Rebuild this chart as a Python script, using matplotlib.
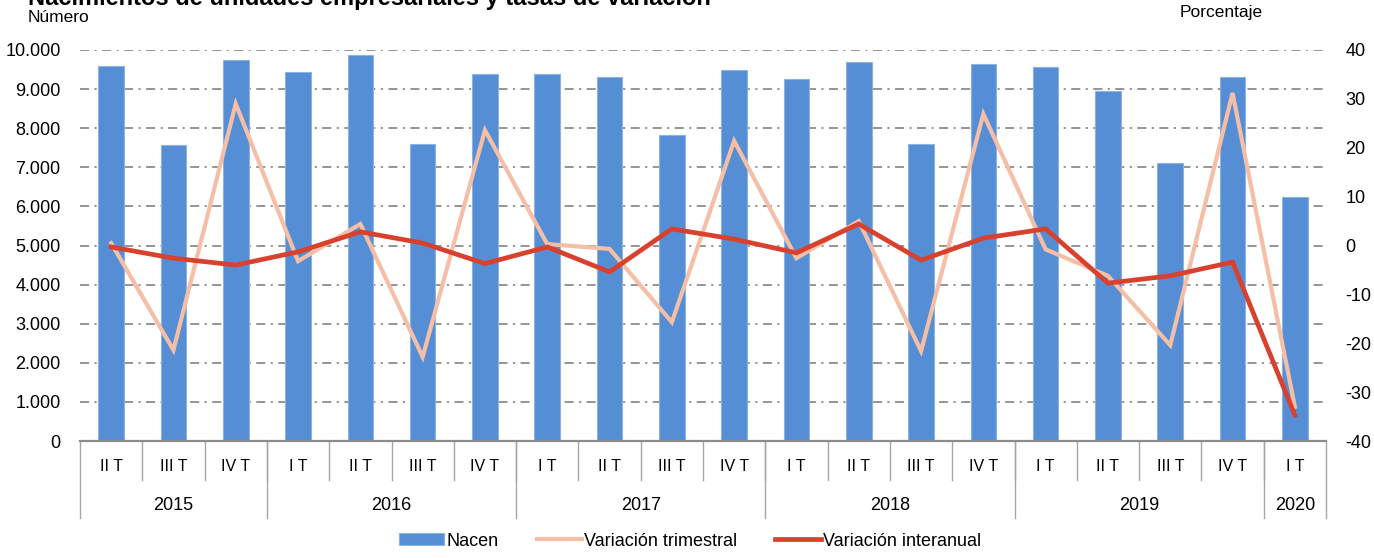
import matplotlib.pyplot as plt
import matplotlib.transforms as mtransforms
import numpy as np

# data
quarters = ["II T", "III T", "IV T",
            "I T", "II T", "III T", "IV T",
            "I T", "II T", "III T", "IV T",
            "I T", "II T", "III T", "IV T",
            "I T", "II T", "III T", "IV T",
            "I T"]
years = ["2015", "2016", "2017", "2018", "2019", "2020"]
quarters_per_year = [3, 4, 4, 4, 4, 1]

nacen = [9600, 7570, 9740, 9440, 9870, 7600, 9390,
         9390, 9300, 7830, 9490, 9250, 9700, 7600, 9640,
         9560, 8950, 7110, 9310, 6240]
var_trimestral = [0.5, -21.4, 29.0, -3.2, 4.4, -22.8, 23.6,
                  0.3, -0.7, -15.7, 21.4, -2.6, 5.0, -21.6, 26.9,
                  -0.8, -6.2, -20.4, 31.2, -33.0]
var_interanual = [-0.3, -2.6, -4.0, -1.3, 2.8, 0.5, -3.7,
                  -0.3, -5.4, 3.4, 1.3, -1.5, 4.4, -3.0, 1.5,
                  3.4, -7.7, -6.2, -3.4, -34.7]

plt.rcParams['font.family'] = ['Liberation Sans', 'DejaVu Sans']
plt.rcParams['axes.unicode_minus'] = False

fig = plt.figure(figsize=(13.74, 5.58), dpi=100)
W, H = 1374, 558
ax = fig.add_axes([80 / W, (H - 441) / H, (1326 - 80) / W, 391 / H])

x = np.arange(len(nacen))
ax.bar(x, nacen, width=0.41, color="#558ED5", edgecolor="#8DB3E2", linewidth=0.8,
       label="Nacen", zorder=2)
ax.set_xlim(-0.5, len(nacen) - 0.5)
ax.set_ylim(0, 10000)
ax.set_yticks(np.arange(0, 10001, 1000))
ax.set_yticklabels([f"{v:,.0f}".replace(",", ".") for v in np.arange(0, 10001, 1000)],
                   fontsize=13)
ax.tick_params(axis="y", length=0, pad=14)
ax.set_xticks([])
ax.set_axisbelow(True)
ax.yaxis.grid(True, color="#8c8c8c", linewidth=1.3, linestyle=(0, (5, 3, 1.2, 3)))
for s in ["top", "left", "right"]:
    ax.spines[s].set_visible(False)
ax.spines["bottom"].set_color("#8c8c8c")
ax.spines["bottom"].set_linewidth(1.6)

ax2 = ax.twinx()
ax2.plot(x, var_trimestral, color="#F4BFA6", linewidth=3.0, label="Variación trimestral",
         solid_joinstyle="miter")
ax2.plot(x, var_interanual, color="#D9412F", linewidth=3.4, label="Variación interanual",
         solid_joinstyle="miter")
ax2.set_ylim(-40, 40)
ax2.set_yticks(np.arange(-40, 41, 10))
ax2.tick_params(axis="y", length=0, pad=14, labelsize=13)
for s in ["top", "left", "right", "bottom"]:
    ax2.spines[s].set_visible(False)
ax2.set_xlim(ax.get_xlim())

# two-level category axis
trans = mtransforms.blended_transform_factory(ax.transData, ax.transAxes)
sep_col = "#a6a6a6"
for i, q in enumerate(quarters):
    ax.text(i, -0.064, q, transform=trans, ha="center", va="center", fontsize=11.5)
for i in range(1, len(quarters)):
    ax.plot([i - 0.5, i - 0.5], [0, -0.10], transform=trans, color=sep_col,
            linewidth=1, clip_on=False)
start = 0
for yr, n in zip(years, quarters_per_year):
    ax.text(start + n / 2 - 0.5, -0.166, yr, transform=trans, ha="center", va="center",
            fontsize=13)
    ax.plot([start - 0.5, start - 0.5], [0, -0.197], transform=trans, color=sep_col,
            linewidth=1, clip_on=False)
    start += n
ax.plot([start - 0.5, start - 0.5], [0, -0.197], transform=trans, color=sep_col,
        linewidth=1, clip_on=False)

# titles / axis captions (the title sits partly above the top edge, as in the reference)
fig.text(28 / W, 1 - 5 / H, "Nacimientos de unidades empresariales y tasas de variación",
         fontsize=17, fontweight="bold", ha="left", va="baseline")
fig.text(28 / W, 1 - 17 / H, "Número", fontsize=12.5, ha="left", va="center")
fig.text(1221 / W, 1 - 12 / H, "Porcentaje", fontsize=12.5, ha="center", va="center")

h1, l1 = ax.get_legend_handles_labels()
h2, l2 = ax2.get_legend_handles_labels()
fig.legend(h1 + h2, l1 + l2, loc="center", bbox_to_anchor=(690 / W, 1 - 541 / H),
           ncol=3, frameon=False, fontsize=13, handlelength=2.5, handleheight=0.6,
           handletextpad=0.15, columnspacing=2.1)

fig.savefig("out.png", dpi=100)
